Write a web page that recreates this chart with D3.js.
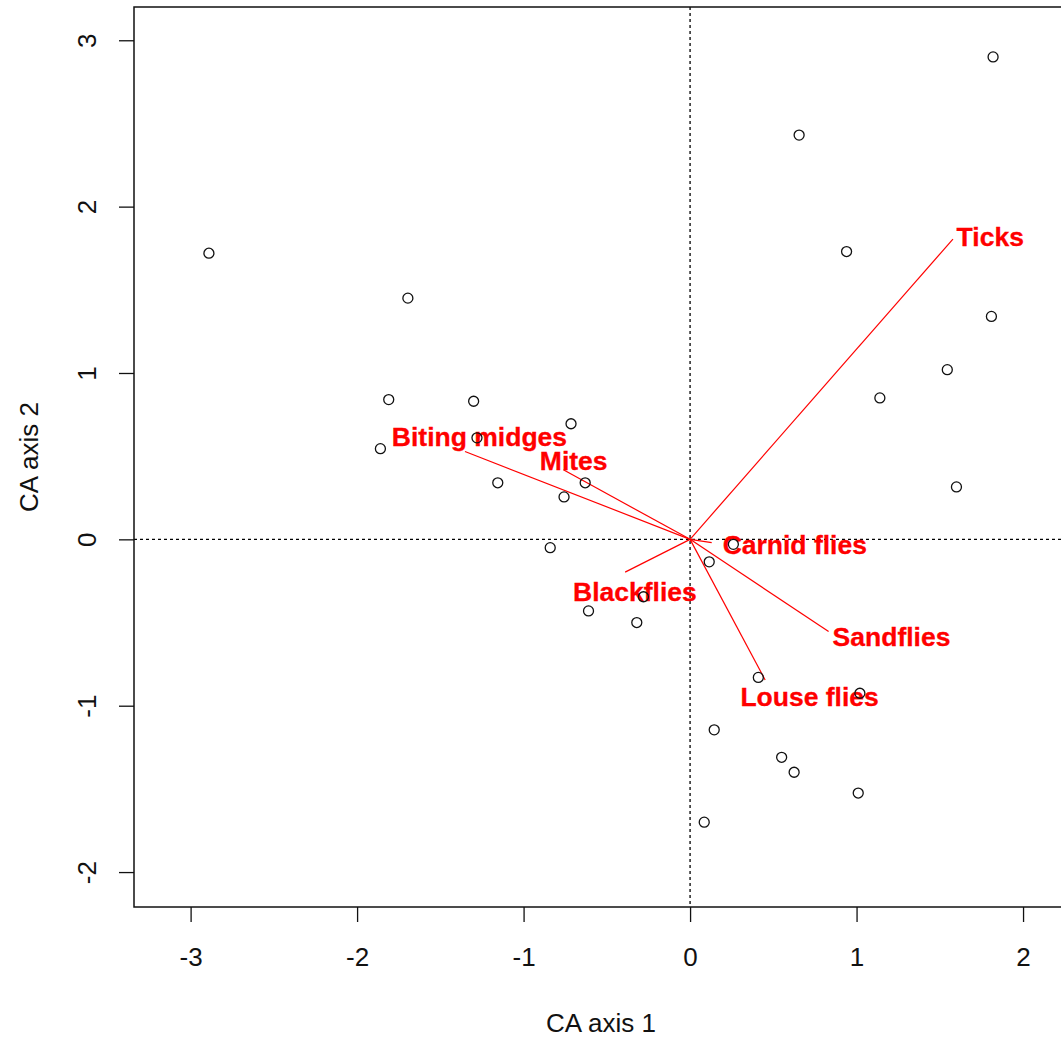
<!DOCTYPE html>
<html>
<head>
<meta charset="utf-8">
<script src="https://cdn.jsdelivr.net/npm/d3@7"></script>
<style>
  html, body { margin: 0; padding: 0; background: #fff; }
  svg { display: block; font-family: "Liberation Sans", Arial, sans-serif; }
</style>
</head>
<body>
<svg id="chart" width="1061" height="1037"></svg>
<script>
// ---- data (CA scores) ----
const siteX = [1.82, 0.655, 0.94, -2.89, -1.695, 1.81, 1.545, -1.81, -1.30, 1.14,
               -0.715, -1.86, -1.28, -1.155, -0.63, -0.757, 1.60, -0.84, 0.26, 0.115,
               -0.28, -0.61, -0.32, 0.41, 1.02, 0.145, 0.55, 0.625, 1.01, 0.085];
const siteY = [2.90, 2.43, 1.73, 1.72, 1.45, 1.34, 1.02, 0.84, 0.83, 0.85,
               0.695, 0.545, 0.61, 0.34, 0.34, 0.255, 0.315, -0.05, -0.03, -0.135,
               -0.345, -0.43, -0.50, -0.83, -0.925, -1.145, -1.31, -1.40, -1.525, -1.70];

const species = ["Biting midges", "Mites", "Blackflies", "Carnid flies", "Sandflies", "Louse flies", "Ticks"];
const arrowX  = [-1.352, -0.761, -0.39, 0.13, 0.832, 0.451, 1.579];
const arrowY  = [0.528, 0.418, -0.197, -0.02, -0.554, -0.845, 1.805];
const labelX  = [-1.265, -0.699, -0.331, 0.629, 1.210, 0.718, 1.803];
const labelY  = [0.615, 0.468, -0.314, -0.033, -0.584, -0.945, 1.819];

const xTicks = [-3, -2, -1, 0, 1, 2];
const yTicks = [-2, -1, 0, 1, 2, 3];
const xLim = [-3.34, 2.27];
const yLim = [-2.21, 3.2];
const xTitle = "CA axis 1";
const yTitle = "CA axis 2";

// ---- layout ----
const L = 134, R = 1068, T = 7, B = 907;
const svg = d3.select("#chart");
const x = d3.scaleLinear().domain(xLim).range([L, R]);
const y = d3.scaleLinear().domain(yLim).range([B, T]);
const fmt = d => String(d);

// reference dotted lines
svg.append("line")
  .attr("x1", x(0)).attr("x2", x(0)).attr("y1", T).attr("y2", B)
  .attr("stroke", "#000").attr("stroke-width", 1.3).attr("stroke-dasharray", "3,3");
svg.append("line")
  .attr("x1", L).attr("x2", R).attr("y1", y(0)).attr("y2", y(0))
  .attr("stroke", "#000").attr("stroke-width", 1.3).attr("stroke-dasharray", "3,3");

// species vectors
const sp = species.map((s, i) => ({ name: s, ax: arrowX[i], ay: arrowY[i], lx: labelX[i], ly: labelY[i] }));
svg.append("g").selectAll("line").data(sp).join("line")
  .attr("x1", x(0)).attr("y1", y(0))
  .attr("x2", d => x(d.ax)).attr("y2", d => y(d.ay))
  .attr("stroke", "#ff0000").attr("stroke-width", 1.2);

svg.append("g").selectAll("text").data(sp).join("text")
  .attr("x", d => x(d.lx)).attr("y", d => y(d.ly))
  .attr("text-anchor", "middle").attr("dominant-baseline", "central")
  .attr("font-size", 26.5).attr("font-weight", "bold")
  .attr("fill", "#ff0000").attr("stroke", "#ff0000").attr("stroke-width", 0.3)
  .text(d => d.name);

// site points
const pts = siteX.map((v, i) => ({ x: v, y: siteY[i] }));
svg.append("g").selectAll("circle").data(pts).join("circle")
  .attr("cx", d => x(d.x)).attr("cy", d => y(d.y)).attr("r", 5)
  .attr("fill", "none").attr("stroke", "#111").attr("stroke-width", 1.3);

// axes
const ax = svg.append("g").attr("transform", `translate(0,${B})`)
  .call(d3.axisBottom(x).tickValues(xTicks).tickSize(15).tickFormat(fmt));
ax.select(".domain").remove();
ax.selectAll("line").attr("stroke", "#111").attr("stroke-width", 1.3);
ax.selectAll("text").attr("y", 59).attr("dy", 0).attr("font-size", 26)
  .attr("font-family", "Liberation Sans, Arial, sans-serif").attr("fill", "#111");

const ay = svg.append("g").attr("transform", `translate(${L},0)`)
  .call(d3.axisLeft(y).tickValues(yTicks).tickSize(15).tickFormat(fmt));
ay.select(".domain").remove();
ay.selectAll("line").attr("stroke", "#111").attr("stroke-width", 1.3);
ay.selectAll("text").attr("x", 0).attr("dy", 0)
  .attr("transform", "translate(-38,0) rotate(-90)")
  .attr("text-anchor", "middle").attr("font-size", 26)
  .attr("font-family", "Liberation Sans, Arial, sans-serif").attr("fill", "#111");

// box
svg.append("rect").attr("x", L).attr("y", T).attr("width", R - L).attr("height", B - T)
  .attr("fill", "none").attr("stroke", "#111").attr("stroke-width", 1.5);

// titles
svg.append("text").attr("x", (L + R) / 2).attr("y", 1032)
  .attr("text-anchor", "middle").attr("font-size", 26).attr("fill", "#111").text(xTitle);
svg.append("text").attr("transform", `translate(38,${(T + B) / 2}) rotate(-90)`)
  .attr("text-anchor", "middle").attr("font-size", 26).attr("fill", "#111").text(yTitle);
</script>
</body>
</html>
